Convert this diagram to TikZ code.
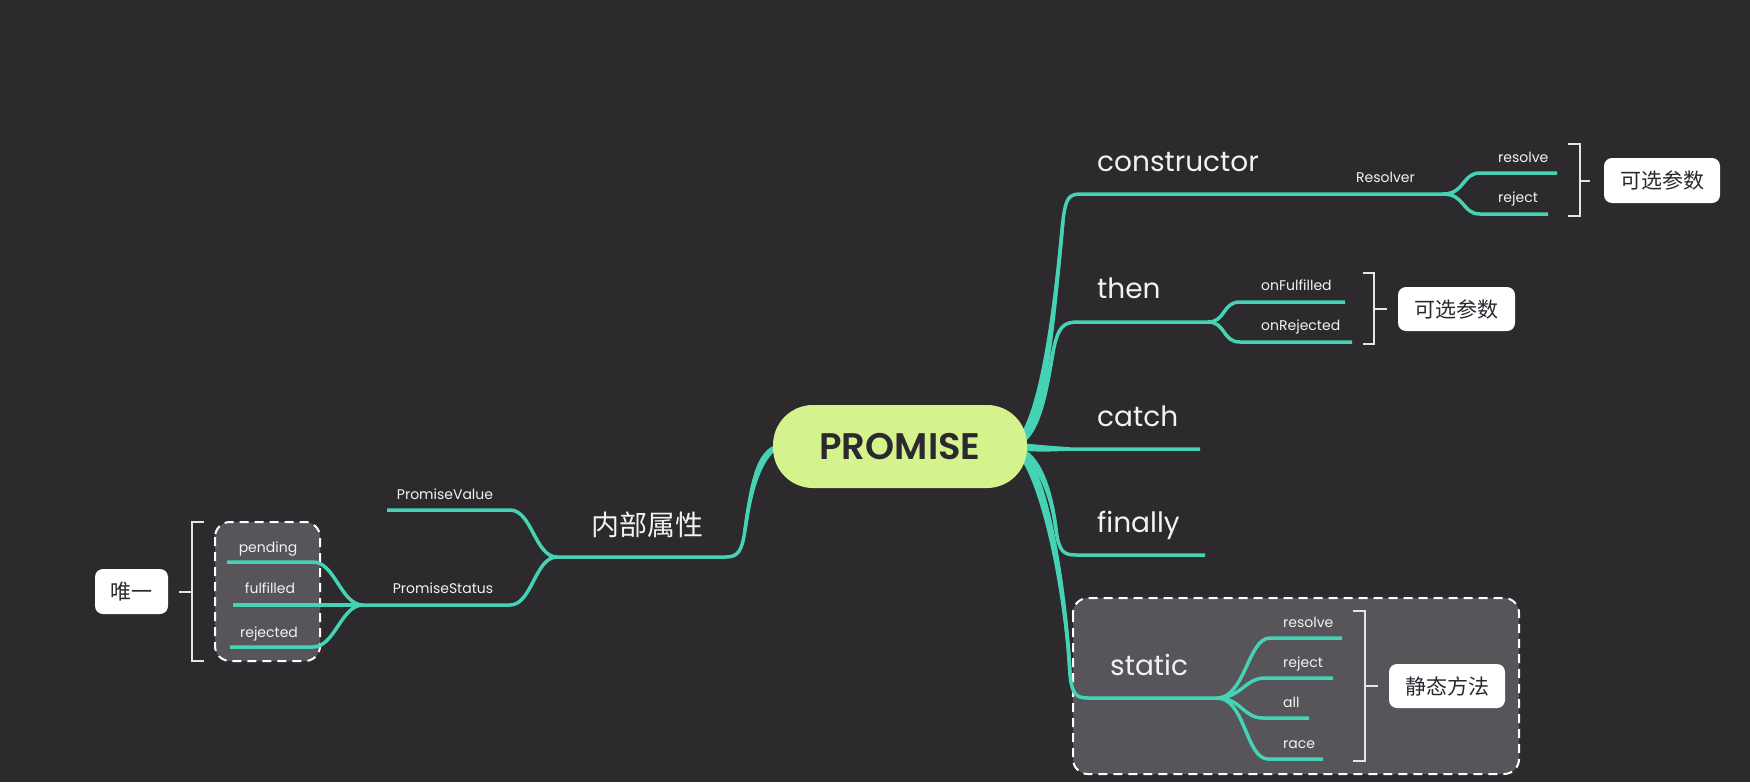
\documentclass[tikz,border=0pt]{standalone}
\usepackage{fontspec}
\setmainfont{Poppins}
\newfontfamily\semib{Poppins SemiBold}
\newfontfamily\cjk{Noto Sans CJK SC}
\usetikzlibrary{calc}
\definecolor{bg}{HTML}{2D2A2E}
\definecolor{br}{HTML}{45D2B5}
\definecolor{gbox}{HTML}{57545A}
\definecolor{pgreen}{HTML}{D5F38D}
\definecolor{dark}{HTML}{2B2830}
\definecolor{txt}{HTML}{F2F2F2}
\newcommand\taperv[5]{\fill[br] ($(#1)+(-#5,0)$) .. controls ($(#2)+(-#5,0)$) and ($(#3)+(-1.75,0)$) .. ($(#4)+(-1.75,0)$) -- ($(#4)+(1.75,0)$) .. controls ($(#3)+(1.75,0)$) and ($(#2)+(#5,0)$) .. ($(#1)+(#5,0)$) -- cycle;}
\begin{document}
\begin{tikzpicture}[x=1pt,y=-1pt,
  lvl/.style={draw=br,line width=3.5pt,line join=round},
  big/.style={text=txt,font=\fontsize{28}{30}\selectfont,inner sep=0pt,anchor=base west},
  small/.style={text=txt,font=\fontsize{14}{16}\selectfont,inner sep=0pt,anchor=base west},
  tag/.style={fill=white,rounded corners=8pt,text=dark,font=\cjk\fontsize{21}{24}\selectfont,inner sep=0pt},
  brk/.style={draw=white!90!black,line width=2.5pt},
  dbox/.style={fill=gbox,draw=white,line width=2pt,dash pattern=on 9pt off 6pt,rounded corners=15pt}]
\useasboundingbox (0,0) rectangle (1750,782);
\fill[bg] (0,0) rectangle (1750,782);

% dashed group boxes
\draw[dbox] (1073,598) rectangle (1519,774);
\draw[dbox] (215,522) rectangle (320,661);

% key points
\coordinate (R) at (1012,446);
\coordinate (L) at (790,444);
\coordinate (cA) at (1063,220);
\coordinate (cF) at (1443,194);
\coordinate (tA) at (1053,352);
\coordinate (tF) at (1208,322);
\coordinate (catchE) at (1200,449);
\coordinate (fA) at (1056,530);
\coordinate (finE) at (1205,555);
\coordinate (sA) at (1070,675);
\coordinate (sF) at (1217,698);
\coordinate (iA) at (745,530);
\coordinate (iF) at (557,557);
\coordinate (pF) at (363,605);

% main branches (tapered trunks)
\taperv{R}{1040,440}{1053,330}{cA}{5}
\taperv{R}{1038,440}{1048,380}{tA}{4.5}
\taperv{R}{1038,452}{1052,495}{fA}{4.5}
\taperv{R}{1042,455}{1066,590}{sA}{5}
\taperv{L}{762,442}{752,480}{iA}{5}
\fill[br] (1012,442) .. controls (1040,445) .. (1070,447.25) -- (1070,450.75) .. controls (1040,452) .. (1012,450) -- cycle;

\draw[lvl] (R) .. controls (1040,440) and (1053,330) .. (cA) .. controls (1066,197) and (1069,194) .. (1082,194) -- (cF);
\draw[lvl] (R) .. controls (1038,440) and (1048,380) .. (tA) .. controls (1058,327) and (1063,322) .. (1078,322) -- (tF);
\draw[lvl] (R) .. controls (1040,447) and (1050,449) .. (1066,449) -- (catchE);
\draw[lvl] (R) .. controls (1038,452) and (1052,495) .. (fA) .. controls (1059,551) and (1063,555) .. (1076,555) -- (finE);
\draw[lvl] (R) .. controls (1042,455) and (1066,590) .. (sA) .. controls (1072,694) and (1076,698) .. (1088,698) -- (sF);
\draw[lvl] (L) .. controls (762,442) and (752,480) .. (iA) .. controls (742,551) and (738,557) .. (726,557) -- (iF);

% sub branches
\coordinate (res1E) at (1557,173);
\coordinate (rej1E) at (1548,214);
\draw[lvl] (cF) .. controls +(22,0) and +(-18,0) .. (1480,173) -- (res1E);
\draw[lvl] (cF) .. controls +(22,0) and +(-18,0) .. (1480,214) -- (rej1E);
\coordinate (onFE) at (1345,302);
\coordinate (onRE) at (1352,342);
\draw[lvl] (tF) .. controls +(18,0) and +(-18,0) .. (1240,302) -- (onFE);
\draw[lvl] (tF) .. controls +(18,0) and +(-18,0) .. (1240,342) -- (onRE);
\coordinate (s1E) at (1342,638);
\coordinate (s2E) at (1333,678);
\coordinate (s3E) at (1309,718);
\coordinate (s4E) at (1323,759);
\draw[lvl] (sF) .. controls +(28,0) and +(-22,0) .. (1270,638) -- (s1E);
\draw[lvl] (sF) .. controls +(24,0) and +(-20,0) .. (1265,678) -- (s2E);
\draw[lvl] (sF) .. controls +(24,0) and +(-20,0) .. (1263,718) -- (s3E);
\draw[lvl] (sF) .. controls +(28,0) and +(-22,0) .. (1268,759) -- (s4E);
\coordinate (pvE) at (387,510);
\draw[lvl] (iF) .. controls +(-22,0) and +(22,0) .. (510,510) -- (pvE);
\draw[lvl] (iF) .. controls +(-22,0) and +(22,0) .. (510,605) -- (pF);
\coordinate (penE) at (227,562);
\coordinate (fulE) at (233,605);
\coordinate (rejE) at (230,647);
\draw[lvl] (pF) .. controls +(-22,0) and +(22,0) .. (313,562) -- (penE);
\draw[lvl] (pF) -- (fulE);
\draw[lvl] (pF) .. controls +(-22,0) and +(22,0) .. (313,647) -- (rejE);

% brackets
\coordinate (b1t) at (1580,144); \coordinate (b1b) at (1580,216); \coordinate (b1m) at (1580,181);
\draw[brk] ($(b1t)+(-12,0)$) -- (b1t) -- (b1b) -- ($(b1b)+(-12,0)$);
\draw[brk] (b1m) -- ++(10,0);
\coordinate (b2t) at (1374,273); \coordinate (b2b) at (1374,344); \coordinate (b2m) at (1374,309);
\draw[brk] ($(b2t)+(-11,0)$) -- (b2t) -- (b2b) -- ($(b2b)+(-11,0)$);
\draw[brk] (b2m) -- ++(13,0);
\coordinate (b3t) at (1365,611); \coordinate (b3b) at (1365,761); \coordinate (b3m) at (1365,686);
\draw[brk] ($(b3t)+(-12,0)$) -- (b3t) -- (b3b) -- ($(b3b)+(-12,0)$);
\draw[brk] (b3m) -- ++(13,0);
\coordinate (b4t) at (192,522); \coordinate (b4b) at (192,661); \coordinate (b4m) at (192,592);
\draw[brk] ($(b4t)+(12,0)$) -- (b4t) -- (b4b) -- ($(b4b)+(12,0)$);
\draw[brk] (b4m) -- ++(-13,0);

% tags
\node[tag,minimum width=116pt,minimum height=45pt] (opt1) at (1662,180.5) {可选参数};
\node[tag,minimum width=117pt,minimum height=44pt] (opt2) at (1456.5,309) {可选参数};
\node[tag,minimum width=116pt,minimum height=44pt] (stm) at (1447,686) {静态方法};
\node[tag,minimum width=73pt,minimum height=45pt] (uniq) at (131.5,591.5) {唯一};

% level-1 labels
\node[big] (constructor) at (1097,171) {constructor};
\node[big] (then) at (1097,298) {then};
\node[big] (catch) at (1097,426) {catch};
\node[big] (finally) at (1097,532) {finally};
\node[big] (static) at (1110,675) {static};
\node[text=txt,font=\cjk\fontsize{28}{30}\selectfont,inner sep=0pt] (inner) at (647,525) {内部属性};

% small labels
\node[small,anchor=base east] (resolver) at (1415,182) {Resolver};
\node[small] (res1) at (1498,162) {resolve};
\node[small] (rej1) at (1498,202) {reject};
\node[small] (onF) at (1261,290) {onFulfilled};
\node[small] (onR) at (1261,330) {onRejected};
\node[small] (sres) at (1283,627) {resolve};
\node[small] (srej) at (1283,667) {reject};
\node[small] (sall) at (1283,707) {all};
\node[small] (srace) at (1283,748) {race};
\node[small,anchor=base] (pvalue) at (445,499) {PromiseValue};
\node[small,anchor=base] (pstatus) at (443,593) {PromiseStatus};
\node[small,anchor=base] (pending) at (268,552) {pending};
\node[small,anchor=base] (fulfilled) at (270,593) {fulfilled};
\node[small,anchor=base] (rejected) at (269,637) {rejected};

% root node
\node[fill=pgreen,rounded corners=40pt,minimum width=254pt,minimum height=83pt,inner sep=0pt,text=dark,font=\semib\fontsize{37}{40}\selectfont] (promise) at (900,446.5) {PROMISE};
\end{tikzpicture}
\end{document}
